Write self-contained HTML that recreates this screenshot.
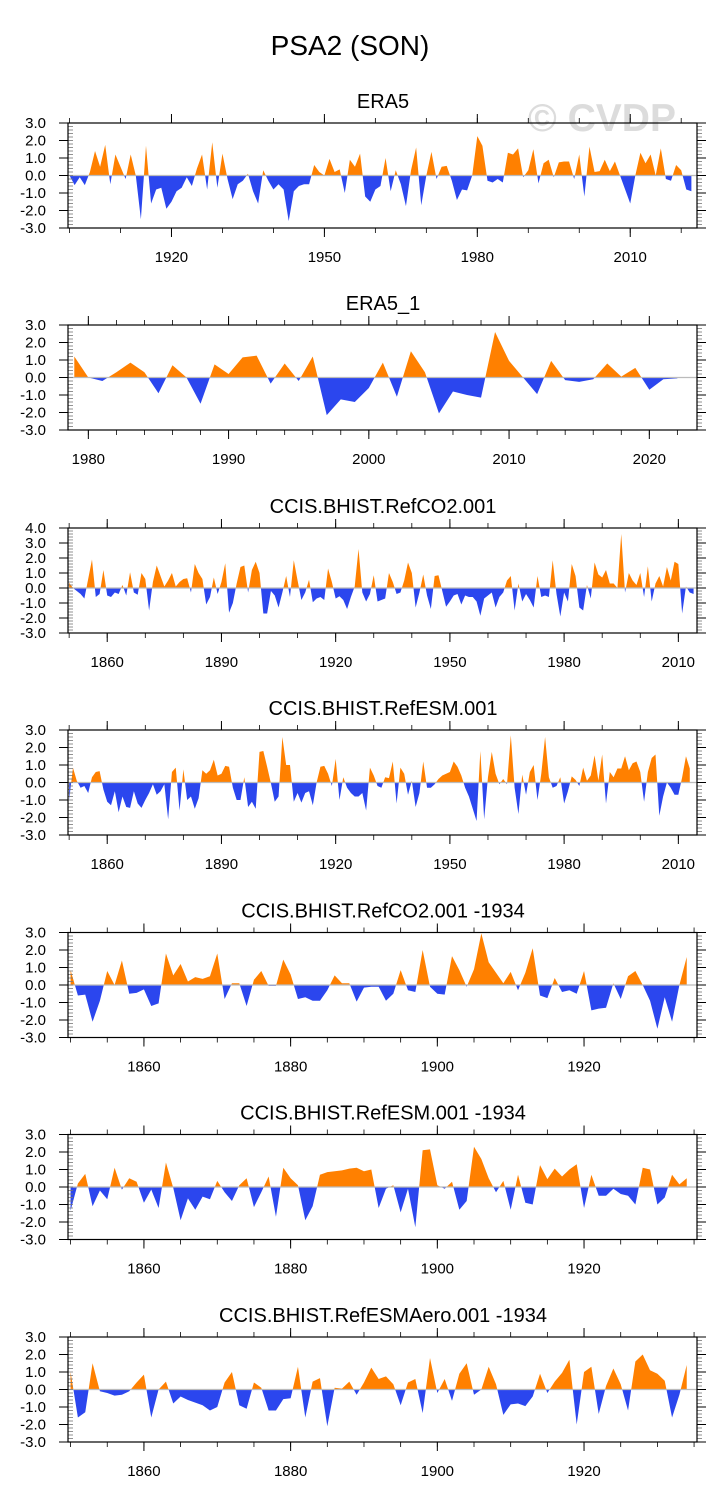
<!DOCTYPE html>
<html><head><meta charset="utf-8"><style>
html,body{margin:0;padding:0;background:#fff;}
svg{display:block;font-family:"Liberation Sans",Arial,sans-serif;}
</style></head><body>
<svg id="fig" width="728" height="1510" viewBox="0 0 728 1510" xmlns="http://www.w3.org/2000/svg">
<text x="350" y="55" font-size="28" text-anchor="middle" fill="#000">PSA2 (SON)</text>
<text x="602" y="131" font-size="39" font-weight="bold" text-anchor="middle" fill="#dcdcdc">© CVDP</text>
</svg>
<script>
const era5Values=[0,-0.55,-0.1,-0.55,0.2,1.4,0.5,1.75,-0.5,1.2,0.5,-0.2,1.2,0,-2.5,1.7,-1.6,-0.8,-0.7,-1.9,-1.5,-0.9,-0.7,-0.1,-0.6,0.4,1.2,-0.8,1.9,-0.7,1.25,-0.2,-1.35,-0.5,-0.3,0.1,-0.9,-1.6,0.3,-0.3,-0.8,-0.5,-0.8,-2.6,-0.9,-0.6,-0.5,-0.5,0.6,0.2,0,0.95,0.2,0.35,-1.0,0.9,0.5,1.25,-1.2,-1.5,-0.8,-0.6,1.0,-0.9,0.3,-0.5,-1.75,0.3,1.6,-1.7,0,1.35,-0.2,0.5,0.55,-0.3,-1.4,-0.8,-0.85,0,2.25,1.7,-0.3,-0.4,-0.2,-0.4,1.3,1.2,1.55,-0.1,0.3,1.5,-0.45,0.7,0.9,-0.1,0.75,0.8,0.8,-0.2,1.2,-1.2,1.65,0.2,0.25,0.9,0.25,0.8,0,-0.8,-1.6,0,1.3,0.7,1.2,0,1.55,-0.2,-0.3,0.6,0.3,-0.8,-0.9];
const era5_1Values=[1.2,0,-0.2,0.3,0.85,0.3,-0.9,0.7,0,-1.5,0.75,0.2,1.15,1.25,-0.35,0.8,-0.2,1.2,-2.15,-1.25,-1.4,-0.6,0.85,-1.1,1.5,0.3,-2.05,-0.8,-1.0,-1.15,2.6,0.95,0,-0.95,0.95,-0.15,-0.25,-0.1,0.8,0.05,0.55,-0.7,-0.1,-0.05];
const refCO2Values=[0.35,0,-0.2,-0.4,-0.7,0.6,1.9,-0.6,-0.4,1.2,-0.5,-0.6,-0.3,-0.4,0.2,-0.5,1.05,-0.3,-0.45,1.0,0.6,-1.5,0.4,1.5,0.8,0.1,0.5,1.0,0.1,0.4,0.6,0.65,-0.3,1.6,1.0,0.6,-1.1,-0.6,0.7,-0.4,0.4,1.65,-1.65,-1.0,0.3,1.4,1.5,-0.3,1.2,1.75,1.0,-1.7,-1.7,-0.2,-0.5,-1.3,-0.3,0.8,-0.6,1.85,0.5,-0.8,-0.3,0.55,-0.95,-0.7,-0.6,-0.8,1.3,0.4,-0.7,-0.55,-0.8,-1.4,-0.6,0.1,2.6,-0.3,-0.9,-0.4,0.85,-0.9,-0.8,-0.7,1.0,0.4,-0.4,-0.3,0.5,1.7,1.0,-1.3,-0.3,0.9,-0.5,-1.4,0.8,0.85,-0.2,-1.25,-0.9,-0.5,-0.4,-1.1,-0.5,-0.6,-0.6,-0.9,-1.85,-0.7,-0.5,-0.3,-1.3,-0.6,-0.3,0.5,0.8,-1.5,0.3,-0.9,-0.4,-0.8,-1.3,0.8,-0.6,-0.5,-0.6,1.85,-0.4,-1.9,-0.3,-0.9,1.6,0.8,-1.3,-1.5,0.2,-0.7,1.7,0.9,0.7,1.2,0.3,0.3,0,3.6,-0.3,1.0,0.5,0.2,1.0,-0.6,1.45,-0.9,0.3,0.8,0.1,1.4,0.5,1.75,1.6,-1.7,0.1,-0.3,-0.4];
const refESMValues=[-1.0,0.85,0.1,-0.3,-0.2,-0.6,0.3,0.6,0.65,-0.4,-1.1,-1.3,-0.5,-1.7,-0.8,-1.4,-1.45,-0.5,-1.2,-1.45,-1.0,-0.6,-0.1,-0.7,-0.5,-0.1,-2.1,0.6,0.85,-1.6,0.75,-1.0,-0.8,-1.5,-0.9,0.7,0.5,0.7,1.3,0.4,0.5,0.95,0.9,-0.3,-1.0,-1.0,0.3,-1.4,-1.1,-1.5,1.75,1.8,0.9,-0.05,-1.1,-0.8,2.6,1.0,1.0,-1.1,-0.6,-1.15,-0.6,-0.5,-1.3,0,0.9,0.95,0.5,-0.2,1.35,-1.0,0.3,-0.3,-0.6,-0.8,-0.8,-0.6,-1.6,0.85,0.4,-0.2,-0.3,0.3,0.25,1.2,-1.2,0.85,0.5,-0.7,0.1,-1.4,-0.6,1.2,-0.3,-0.3,-0.1,0.2,0.4,0.5,0.6,1.2,0.9,0.4,-0.3,-0.8,-1.5,-2.2,1.8,-2.1,0.3,1.75,0.5,-0.1,0.2,-0.1,2.7,-0.3,-1.8,0.45,-0.7,0.6,1.0,-1.0,0.5,2.6,0.3,-0.3,-0.2,0.3,-1.2,-0.5,0.35,0.15,-0.2,0.85,0.1,0.4,1.55,0.1,1.6,-1.2,0.6,0.3,0.8,0.8,1.5,0.7,1.1,1.2,0.6,-1.1,0.6,1.4,1.6,-1.9,-0.8,0,-0.3,-0.7,-0.7,0.3,1.5,0.8];
const refCO2_1934Values=[0.85,-0.6,-0.55,-2.1,-0.9,0.8,0,1.4,-0.5,-0.45,-0.25,-1.2,-1.05,1.8,0.55,1.2,0.2,0.45,0.35,0.5,1.8,-0.8,0.1,0.1,-1.2,0.3,0.8,-0.05,-0.05,1.45,0.6,-0.8,-0.7,-0.9,-0.9,-0.3,0.55,0.1,0.1,-0.95,-0.15,-0.1,-0.1,-0.9,-0.5,0.85,-0.3,-0.4,2.0,-0.1,-0.5,-0.55,1.65,0.85,-0.1,0.9,2.95,1.3,0.7,0.1,0.75,-0.3,0.7,2.1,-0.6,-0.75,0.4,-0.4,-0.3,-0.5,0.8,-1.45,-1.35,-1.3,0.1,-0.8,0.5,0.8,0,-0.9,-2.5,-0.7,-2.1,0,1.6];
const refESM_1934Values=[-1.35,0.2,0.75,-1.1,-0.2,-0.7,1.1,-0.15,0.5,0.3,-0.9,-0.15,-1.2,1.4,-0.05,-1.9,-0.65,-1.3,-0.55,-0.7,0.35,-0.3,-0.8,0.1,0.5,-1.15,-0.3,0.6,-1.7,1.1,0.5,0.1,-1.9,-1.1,0.7,0.85,0.9,0.95,1.05,1.1,0.9,1.0,-1.2,-0.1,0.1,-1.45,-0.1,-2.3,2.1,2.15,0.1,-0.1,0.3,-1.3,-0.8,2.3,1.6,0.5,-0.3,0.35,-1.3,0.7,-0.9,-1.0,1.25,0.45,1.05,0.6,1.0,1.3,-1.2,0.7,-0.5,-0.5,-0.1,-0.4,-0.5,-1.0,1.1,1.0,-1.0,-0.6,0.7,0.15,0.5];
const refESMAero_1934Values=[1.0,-1.6,-1.3,1.5,-0.1,-0.2,-0.35,-0.3,-0.1,0.4,0.85,-1.6,0,0.45,-0.8,-0.4,-0.6,-0.75,-0.9,-1.2,-1.0,0.4,1.0,-0.9,-1.1,0.4,0.1,-1.2,-1.2,-0.55,-0.5,1.3,-1.6,0.45,0.65,-2.1,0.1,0.05,0.45,-0.3,0.4,1.25,0.6,0.75,0.3,-0.9,0.4,0.6,-1.35,1.8,-0.2,0.6,-0.65,0.9,1.5,-0.3,0,1.3,0.3,-1.45,-0.85,-0.8,-0.95,-0.4,0.9,-0.2,0.45,0.95,1.7,-2.0,1.0,1.3,-1.4,0.2,1.2,0.3,-1.2,1.6,2.0,1.1,0.9,0.5,-1.6,-0.3,1.4];
const yTicks3=[3,2,1,0,-1,-2,-3];
const yTicks4=[4,3,2,1,0,-1,-2,-3];
const xLabelsEra5=[1920,1950,1980,2010];
const xLabelsEra5_1=[1980,1990,2000,2010,2020];
const xLabelsHist=[1860,1890,1920,1950,1980,2010];
const xLabels1934=[1860,1880,1900,1920];

const NS='http://www.w3.org/2000/svg';
const svg=document.getElementById('fig');
function mk(tag,attrs,parent){const e=document.createElementNS(NS,tag);for(const k in attrs)e.setAttribute(k,attrs[k]);(parent||svg).appendChild(e);return e;}
const L=68,R=697;
const panels=[
 {id:'era5',title:'ERA5',top:123,ymin:-3,ymax:3,yt:yTicks3,x0:1899.7,x1:2023.1,start:1900,vals:era5Values,xl:xLabelsEra5,minor:10,mstart:1900},
 {id:'era5-1',title:'ERA5_1',top:325,ymin:-3,ymax:3,yt:yTicks3,x0:1978.55,x1:2023.4,start:1979,vals:era5_1Values,xl:xLabelsEra5_1,minor:2,mstart:1980},
 {id:'refco2',title:'CCIS.BHIST.RefCO2.001',top:528,ymin:-3,ymax:4,yt:yTicks4,x0:1849.7,x1:2014.9,start:1850,vals:refCO2Values,xl:xLabelsHist,minor:10,mstart:1850},
 {id:'refesm',title:'CCIS.BHIST.RefESM.001',top:730,ymin:-3,ymax:3,yt:yTicks3,x0:1849.7,x1:2014.9,start:1850,vals:refESMValues,xl:xLabelsHist,minor:10,mstart:1850},
 {id:'refco2-1934',title:'CCIS.BHIST.RefCO2.001 -1934',top:932.5,ymin:-3,ymax:3,yt:yTicks3,x0:1849.65,x1:1935.4,start:1850,vals:refCO2_1934Values,xl:xLabels1934,minor:5,mstart:1850},
 {id:'refesm-1934',title:'CCIS.BHIST.RefESM.001 -1934',top:1134.5,ymin:-3,ymax:3,yt:yTicks3,x0:1849.65,x1:1935.4,start:1850,vals:refESM_1934Values,xl:xLabels1934,minor:5,mstart:1850},
 {id:'refesmaero-1934',title:'CCIS.BHIST.RefESMAero.001 -1934',top:1337,ymin:-3,ymax:3,yt:yTicks3,x0:1849.65,x1:1935.4,start:1850,vals:refESMAero_1934Values,xl:xLabels1934,minor:5,mstart:1850}
];
const H=105;
panels.forEach((p,pi)=>{
 const T=p.top,B=T+H;
 const xs=yr=>L+(yr-p.x0)/(p.x1-p.x0)*(R-L);
 const ys=v=>B-(v-p.ymin)/(p.ymax-p.ymin)*H;
 const g=mk('g',{});
 
 
 const t=mk('text',{x:383,y:T-15,'font-size':20,'text-anchor':'middle',fill:'#000'},g);
 t.textContent=p.title;
 
 
 const z=ys(0);
 const cpPos=mk('clipPath',{id:'cpp'+pi},g);mk('rect',{x:L,y:T,width:R-L,height:z-T},cpPos);
 const cpNeg=mk('clipPath',{id:'cpn'+pi},g);mk('rect',{x:L,y:z,width:R-L,height:B-z},cpNeg);
 let pts=[];
 p.vals.forEach((v,i)=>pts.push(xs(p.start+i).toFixed(2)+','+ys(v).toFixed(2)));
 const xa=xs(p.start).toFixed(2),xb=xs(p.start+p.vals.length-1).toFixed(2);
 const poly=xa+','+z+' '+pts.join(' ')+' '+xb+','+z;
 const ap=mk('polygon',{points:poly,fill:'#ff8000','clip-path':'url(#cpp'+pi+')'},g);
 
 
 const an=mk('polygon',{points:poly,fill:'#2b46ee','clip-path':'url(#cpn'+pi+')'},g);
 
 
 const zl=mk('line',{x1:L,x2:R,y1:z,y2:z,stroke:'#bbb','stroke-width':1.2},g);
 
 
 for(let v=p.ymin;v<=p.ymax+1e-6;v+=0.2){
  const y=ys(v);
  mk('line',{x1:L,x2:L+5,y1:y,y2:y,stroke:'#777','stroke-width':0.8},g);
  mk('line',{x1:R,x2:R+5,y1:y,y2:y,stroke:'#777','stroke-width':0.8},g);
 }
 p.yt.forEach(v=>{
  const y=ys(v);
  mk('line',{x1:L-9,x2:L,y1:y,y2:y,stroke:'#000','stroke-width':1},g);
  mk('line',{x1:R,x2:R+9,y1:y,y2:y,stroke:'#000','stroke-width':1},g);
  const lb=mk('text',{x:L-22,y:y+5,'font-size':15,'text-anchor':'end',fill:'#000'},g);
  lb.textContent=v.toFixed(1);
  
  
 });
 for(let yr=p.mstart;yr<=p.x1;yr+=p.minor){
  const x=xs(yr);
  mk('line',{x1:x,x2:x,y1:B,y2:B+5,stroke:'#000','stroke-width':0.8},g);
  mk('line',{x1:x,x2:x,y1:T-5,y2:T,stroke:'#000','stroke-width':0.8},g);
 }
 p.xl.forEach(yr=>{
  const x=xs(yr);
  mk('line',{x1:x,x2:x,y1:B,y2:B+9,stroke:'#000','stroke-width':1},g);
  mk('line',{x1:x,x2:x,y1:T-9,y2:T,stroke:'#000','stroke-width':1},g);
  const lb=mk('text',{x:x,y:B+34,'font-size':15,'text-anchor':'middle',fill:'#000'},g);
  lb.textContent=yr;
  
  
 });
 const fr=mk('rect',{x:L,y:T,width:R-L,height:H,fill:'none',stroke:'#000','stroke-width':1.2},g);
 
 
});
</script>
</body></html>
